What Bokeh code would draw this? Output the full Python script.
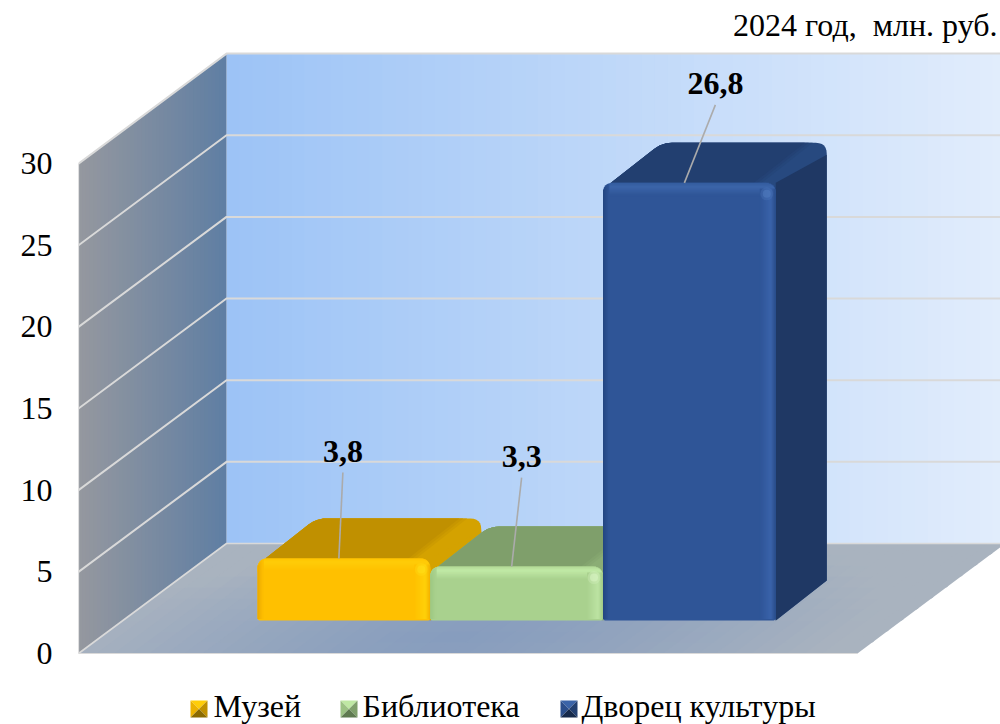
from bokeh.plotting import figure
from bokeh.models import Range1d, FixedTicker
from bokeh.core.properties import value
from bokeh.embed import file_html
from bokeh.resources import INLINE
import math

categories = ["Музей", "Библиотека", "Дворец культуры"]
values = [3.8, 3.3, 26.8]
value_labels = ["3,8", "3,3", "26,8"]
y_ticks = [0, 5, 10, 15, 20, 25, 30]
unit_note = "2024 год,\u00a0 млн. руб."

# style tables, per bar
face = ["#ffc000", "#a9d18e", "#2f5597"]
left_edge = ["#e9a600", "#9cc681", "#234680"]
top_light = ["#ffcd08", "#bfe8a4", "#3b64a8"]
right_light = ["#ffd20a", "#bce3a2", "#3a63aa"]
corner_light = ["#ffe21a", "#e0f8cc", "#5580c4"]
top_face = ["#c09000", "#7f9f6b", "#223f70"]
top_strip = ["#d4a200", "#8bad75", "#27497f"]
side_face = ["#d4a200", "#8bad75", "#1f3864"]
swatch_dark = ["#8a6a00", "#5f7a50", "#16294a"]

# scale: pixels per data unit, and where the axes' origin lies on the page
PX_X, PX_Y = 173.1, 16.33
OX, OY = 78, 653
W, H = 1000, 724
FLOOR_W = 4.5
WALL_DX, WALL_DY = 148 / PX_X, 110 / PX_Y
BAR_X0 = 179 / PX_X
BAR_W = 0.998
BAR_BASE = 33 / PX_Y
BAR_DX, BAR_DY = 51 / PX_X, 40 / PX_Y
Y_TOP = max(y_ticks)
FONT = "Liberation Serif"
FS = "32px"


def hx(c):
    c = c.lstrip("#")
    return [int(c[i:i + 2], 16) for i in (0, 2, 4)]


def mix(a, b, t):
    A, B = hx(a), hx(b)
    return "#%02x%02x%02x" % tuple(round(A[i] + (B[i] - A[i]) * t) for i in range(3))


def page_x(px):
    return (px - OX) / PX_X


def page_y(py):
    return (OY - py) / PX_Y


def rounded(points, radii, n=6):
    """Rounded polygon: points in data units, radii in pixels."""
    P = [(x * PX_X, y * PX_Y) for x, y in points]
    xs, ys = [], []
    m = len(P)
    for i in range(m):
        p, a, b = P[i], P[i - 1], P[(i + 1) % m]
        r = radii[i]
        if r <= 0:
            xs.append(p[0] / PX_X)
            ys.append(p[1] / PX_Y)
            continue
        la = math.hypot(a[0] - p[0], a[1] - p[1])
        lb = math.hypot(b[0] - p[0], b[1] - p[1])
        s = (p[0] + (a[0] - p[0]) * r / la, p[1] + (a[1] - p[1]) * r / la)
        e = (p[0] + (b[0] - p[0]) * r / lb, p[1] + (b[1] - p[1]) * r / lb)
        for k in range(n + 1):
            t = k / n
            x = (1 - t) ** 2 * s[0] + 2 * t * (1 - t) * p[0] + t * t * e[0]
            y = (1 - t) ** 2 * s[1] + 2 * t * (1 - t) * p[1] + t * t * e[1]
            xs.append(x / PX_X)
            ys.append(y / PX_Y)
    return xs, ys


def draw(p, polys, colors):
    p.patches([q[0] for q in polys], [q[1] for q in polys], fill_color=colors, line_color=None)


p = figure(width=W, height=H, output_backend="svg", toolbar_location=None,
           x_range=Range1d(page_x(OX), page_x(W)),
           y_range=Range1d(page_y(H), page_y(0)),
           min_border_left=OX, min_border_right=0, min_border_top=0, min_border_bottom=0,
           x_axis_location=None, background_fill_color="white", border_fill_color="white",
           outline_line_color=None)
p.grid.visible = False
ax = p.yaxis[0]
ax.ticker = FixedTicker(ticks=y_ticks)
ax.axis_line_color = None
ax.major_tick_line_color = None
ax.minor_tick_line_color = None
ax.major_label_standoff = 20
ax.major_label_text_font = FONT
ax.major_label_text_font_size = FS
ax.major_label_text_color = "black"

OV = 1.5 / PX_X  # overlap between neighbouring gradient strips

# back wall
N = 60
wl, wr = WALL_DX, FLOOR_W + WALL_DX
polys, cols = [], []
for i in range(N):
    a, b = wl + (wr - wl) * i / N, wl + (wr - wl) * (i + 1) / N
    b = min(b + OV, wr)
    polys.append(([a, b, b, a], [WALL_DY, WALL_DY, WALL_DY + Y_TOP, WALL_DY + Y_TOP]))
    cols.append(mix("#9cc3f6", "#e2edfc", (i + 0.5) / N))
draw(p, polys, cols)

# side wall
N = 40
polys, cols = [], []
for i in range(N):
    t0, t1 = i / N, min(1, (i + 1.3) / N)
    polys.append(([WALL_DX * t0, WALL_DX * t1, WALL_DX * t1, WALL_DX * t0],
                  [WALL_DY * t0, WALL_DY * t1, WALL_DY * t1 + Y_TOP, WALL_DY * t0 + Y_TOP]))
    cols.append(mix("#95989f", "#5f7ea3", (i + 0.5) / N))
draw(p, polys, cols)

# floor
NU, NV = 44, 10
polys, cols = [], []
for j in range(NV):
    for i in range(NU):
        u0, u1 = FLOOR_W * i / NU, FLOOR_W * min(NU, i + 1.15) / NU
        v0, v1 = j / NV, min(NV, j + 1.15) / NV
        polys.append(([u0 + WALL_DX * v0, u1 + WALL_DX * v0, u1 + WALL_DX * v1, u0 + WALL_DX * v1],
                      [WALL_DY * v0, WALL_DY * v0, WALL_DY * v1, WALL_DY * v1]))
        du = ((i + 0.5) / NU - 0.46) / 0.5
        dv = ((j + 0.5) / NV - 0.15) / 1.0
        d = min(1, math.sqrt(du * du + dv * dv))
        cols.append(mix("#879dbe", "#a9b3bf", d ** 1.3))
draw(p, polys, cols)

# gridlines on the walls, and edges
GRID = "#d9d9d9"
for t in y_ticks:
    if t == 0:
        continue
    p.line([0, WALL_DX, wr], [t, t + WALL_DY, t + WALL_DY], line_color=GRID, line_width=2)
p.line([0, WALL_DX, wr], [0, WALL_DY, WALL_DY], line_color=GRID, line_width=1.6)
p.line([0, 0], [0, Y_TOP], line_color=GRID, line_width=1.2)
p.line([0, FLOOR_W], [0, 0], line_color=GRID, line_width=1.2)


def bar(i, v):
    xl, xr = BAR_X0 + i * BAR_W, BAR_X0 + (i + 1) * BAR_W
    bot, top = BAR_BASE, BAR_BASE + v
    ex, ey = 1 / PX_X, 1 / PX_Y
    il = xl + 8 * ex
    # silhouette of top and side together, in the highlight colour
    draw(p, [rounded([(il, top), (il + BAR_DX, top + BAR_DY), (xr + BAR_DX, top + BAR_DY),
                      (xr + BAR_DX, bot + BAR_DY), (xr, bot)],
                     [0, 10, 11, 0, 0])], [top_strip[i]])
    # side below its upper edge
    draw(p, [([xr, xr, xr + BAR_DX, xr + BAR_DX],
              [bot, top, top + BAR_DY - 12 * ey, bot + BAR_DY])], [side_face[i]])
    # top: soft steps towards the highlight along its right edge
    for w, t in ((14, 0.66), (18, 0.33), (22, 0.0)):
        s = xr - w * ex
        draw(p, [rounded([(il, top), (il + BAR_DX, top + BAR_DY), (s + BAR_DX, top + BAR_DY), (s, top)],
                         [0, 10, 0, 0])], [mix(top_face[i], top_strip[i], t)])
    # front
    r = 10.0
    draw(p, [rounded([(xl, bot), (xl, top), (xr, top), (xr, bot)], [3, r, r, 3])], [face[i]])

    def inset(k):
        k = min(k, r)
        return r - math.sqrt(max(0, r * r - (r - k) ** 2))

    polys, cols = [], []
    for j in range(13):
        ins = inset(j + 0.5)
        polys.append(([xl + ins * ex, xr - ins * ex, xr - ins * ex, xl + ins * ex],
                      [top - j * ey, top - j * ey, top - (j + 1.3) * ey, top - (j + 1.3) * ey]))
        if j < 4:
            cols.append(mix(mix(face[i], top_light[i], 0.45), top_light[i], j / 3))
        else:
            cols.append(mix(top_light[i], face[i], (j - 4) / 8))
    for k in range(6):
        a, b = xl + k * ex, xl + (k + 1.3) * ex
        yt = top - inset(k + 0.5) * ey
        polys.append(([a, b, b, a], [bot + 1.5 * ey, bot + 1.5 * ey, yt, yt]))
        cols.append(mix(left_edge[i], face[i], (k + 0.5) / 6))
    for k in range(15, -1, -1):
        a, b = xr - (k + 1) * ex, xr - (k - 0.3 if k else 0) * ex
        yt = top - max(inset(k + 0.5), 6) * ey
        polys.append(([a, b, b, a], [bot + 1.5 * ey, bot + 1.5 * ey, yt, yt]))
        if k >= 5:
            cols.append(mix(right_light[i], face[i], (k - 5 + 0.5) / 11))
        else:
            cols.append(mix(mix(face[i], left_edge[i], 0.6), right_light[i], (k + 0.5) / 5))
    draw(p, polys, cols)
    hx_, hy_ = xr - 9 * ex, top - 11 * ey
    p.scatter([hx_], [hy_], size=13, marker="circle", fill_color=corner_light[i], fill_alpha=0.25, line_color=None)
    p.scatter([hx_], [hy_], size=8, marker="circle", fill_color=corner_light[i], fill_alpha=0.45, line_color=None)


for i, v in enumerate(values):
    bar(i, v)

# data labels with leader lines: offsets (pixels) from the front top edge, left of its middle
label_dx = [4, 10, 31]
label_dy = [107, 110, 99]
LEAD_GAP = 21
for i, v in enumerate(values):
    bx = BAR_X0 + (i + 0.5) * BAR_W - 5 / PX_X
    by = BAR_BASE + v
    lx = bx + label_dx[i] / PX_X
    ly = by + label_dy[i] / PX_Y
    p.line([bx, lx], [by, ly - LEAD_GAP / PX_Y], line_color="#ababab", line_width=1.6)
    p.text([lx], [ly], text=[value_labels[i]], text_font=value(FONT), text_font_size=FS,
           text_font_style="bold", text_color="black", text_align="center", text_baseline="middle")

# note
p.text([page_x(997)], [page_y(24)], text=[unit_note], text_font=value(FONT), text_font_size=FS,
       text_color="black", text_align="right", text_baseline="middle")

# legend
swatch_x = [190, 340, 560]
text_x = [213, 362, 581]
LEG_SWATCH_Y = 708.5
LEG_TEXT_Y = 705.5
S = 17
for i, c in enumerate(categories):
    x0, x1 = page_x(swatch_x[i]), page_x(swatch_x[i] + S)
    y0, y1 = page_y(LEG_SWATCH_Y + S / 2), page_y(LEG_SWATCH_Y - S / 2)
    cx, cy = (x0 + x1) / 2, (y0 + y1) / 2
    tris = [([x0, x1, cx], [y1, y1, cy]), ([x0, x0, cx], [y0, y1, cy]),
            ([x1, x1, cx], [y0, y1, cy]), ([x0, x1, cx], [y0, y0, cy])]
    draw(p, tris, [top_light[i], mix(face[i], top_face[i], 0.3), top_face[i], swatch_dark[i]])
    p.text([page_x(text_x[i])], [page_y(LEG_TEXT_Y)], text=[c], text_font=value(FONT), text_font_size=FS,
           text_color="black", text_align="left", text_baseline="middle")

open("out.html", "w").write(file_html(p, INLINE))
